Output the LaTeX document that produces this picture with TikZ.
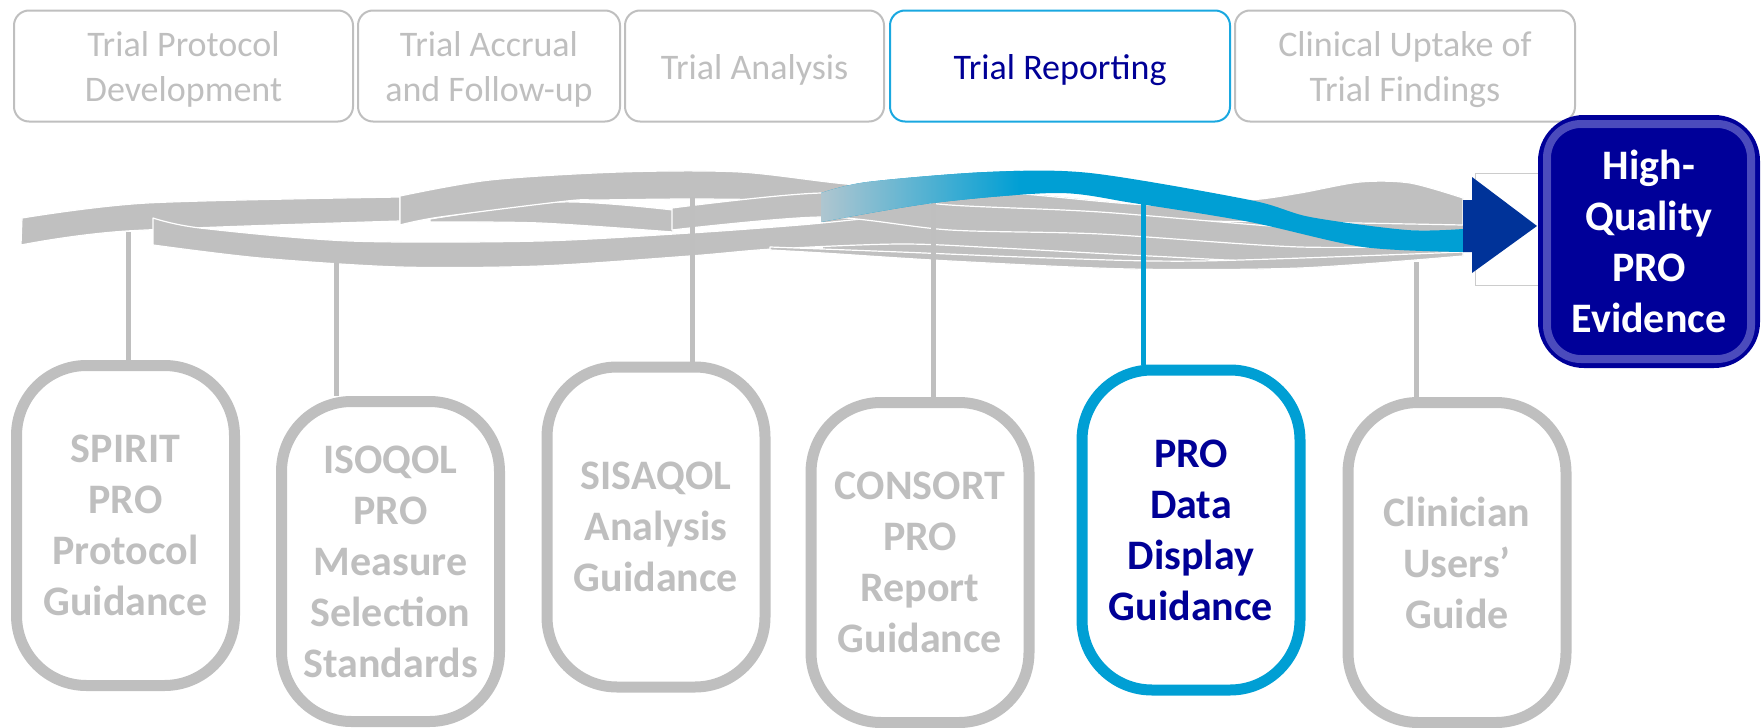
\documentclass[tikz,border=0pt]{standalone}
\usepackage{fontspec}
\setmainfont{Carlito}
\definecolor{lgray}{HTML}{BFBFBF}
\definecolor{rgray}{HTML}{C0C0C0}
\definecolor{navy}{HTML}{000096}
\definecolor{pblue}{HTML}{009FD4}
\definecolor{tblue}{HTML}{1AA8E0}
\definecolor{bluelight}{HTML}{AFC6D0}
\definecolor{arrowblue}{HTML}{003399}
\definecolor{hqnavy}{HTML}{000099}
\definecolor{hqring}{HTML}{6C6CCC}
\definecolor{thinbox}{HTML}{CCCCCC}
\begin{document}
\begin{tikzpicture}[x=0.5pt,y=-0.5pt,
  topbox/.style={draw=lgray, line width=1pt, rounded corners=7.5pt, minimum height=55.5pt,
    inner sep=0pt, align=center, text=lgray, font=\fontsize{18}{22.5}\selectfont,
    execute at begin node={\rule{0pt}{16.5pt}}},
  topboxtwo/.style={topbox, execute at begin node={\rule{0pt}{38.5pt}}},
  guidebox/.style={draw=lgray, line width=5.5pt, rounded corners=35pt, minimum width=109pt,
    minimum height=160pt, inner sep=0pt, align=center, text=lgray,
    font=\fontsize{21}{25.5}\selectfont\bfseries},
  hqbox/.style={fill=hqnavy, draw=hqnavy, line width=2pt, rounded corners=22pt,
    minimum width=109pt, minimum height=124.5pt, inner sep=0pt, align=center, text=white,
    font=\fontsize{21}{25.5}\selectfont\bfseries},
  strand/.style={fill=rgray, draw=white, line width=0.6pt, line join=round},
  link/.style={draw=lgray, line width=2.5pt},
  bluelink/.style={draw=pblue, line width=2.5pt}
]
\useasboundingbox (0,0) rectangle (1762,728);

% top phase boxes
\node[topboxtwo, minimum width=169.5pt] (t1) at (183.5,66) {Trial Protocol\\Development};
\node[topboxtwo, minimum width=131pt] (t2) at (489,66) {Trial Accrual\\and Follow-up};
\node[topbox, minimum width=129.5pt] (t3) at (754.5,66) {Trial Analysis};
\node[topbox, minimum width=170pt, draw=tblue, text=navy] (t4) at (1060,66) {Trial Reporting};
\node[topboxtwo, minimum width=170pt] (t5) at (1405,66) {Clinical Uptake of\\Trial Findings};

% guidance boxes
\node[guidebox] (g1) at (125.5,525.5) {SPIRIT\\PRO\\Protocol\\Guidance};
\node[guidebox] (g2) at (390.5,561.5) {ISOQOL\\PRO\\Measure\\Selection\\Standards};
\node[guidebox] (g3) at (656,527) {SISAQOL\\Analysis\\Guidance};
\node[guidebox] (g4) at (920,562.5) {CONSORT\\PRO\\Report\\Guidance};
\node[guidebox, draw=pblue, text=navy] (g5) at (1191,530) {PRO\\Data\\Display\\Guidance};
\node[guidebox] (g6) at (1457,562.5) {Clinician\\Users’\\Guide};

% ribbon: solid body on the right
\fill[rgray] plot[smooth] coordinates {(823,190) (1000,192) (1150,205) (1250,200) (1300,193) (1360,182) (1410,183) (1463,198)}
  -- plot[smooth] coordinates {(1463,256) (1300,268) (1130,269) (950,261) (823,251)} -- cycle;
% ribbon strands (gray)
\filldraw[strand] plot[smooth] coordinates {(22,218) (147,203) (400,197)}
  -- plot[smooth] coordinates {(400,221) (127,231) (21,245)} -- cycle;
\filldraw[strand] plot[smooth] coordinates {(153,218) (200,228) (350,241) (540,241) (690,233) (800,225) (900,216) (1000,215) (1150,226) (1300,236) (1463,240)}
  -- plot[smooth] coordinates {(1463,253) (1300,262) (1150,256) (1000,248) (900,244) (773,249) (690,256) (540,266) (400,267) (260,258) (153,245)} -- cycle;
\filldraw[strand] plot[smooth] coordinates {(770,247) (900,252) (1050,258) (1200,261) (1463,252)}
  -- plot[smooth] coordinates {(1463,256) (1300,268) (1130,269) (950,261) (823,253) (770,250)} -- cycle;
\filldraw[strand] plot[smooth] coordinates {(430,219) (560,202) (673,210)}
  -- plot[smooth] coordinates {(673,232) (540,223) (430,222)} -- cycle;
\filldraw[strand] plot[smooth] coordinates {(400,196) (490,180) (620,172) (740,172) (857,185) (1000,192) (1150,205) (1250,200) (1300,193) (1360,182) (1410,183) (1463,198)}
  -- plot[smooth] coordinates {(1463,225) (1300,222) (1150,220) (1000,210) (870,203) (780,200) (690,199) (600,200) (567,201) (440,217) (400,225)} -- cycle;
\filldraw[strand] plot[smooth] coordinates {(672,208) (823,193) (950,205) (1100,212) (1300,228) (1463,232)}
  -- plot[smooth] coordinates {(1463,245) (1300,247) (1100,234) (950,230) (823,217) (672,230)} -- cycle;

% connectors from ribbon to guidance boxes
\coordinate (k1) at (128,232);
\coordinate (k2) at (336,263);
\coordinate (k3) at (692,197);
\coordinate (k4) at (933,202);
\coordinate (k5) at (1143,198);
\coordinate (k6) at (1416,262);
\draw[link] (k1) -- (k1 |- g1.north);
\draw[link] (k2) -- (k2 |- g2.north);
\draw[link] (k3) -- (k3 |- g3.north);
\draw[link] (k4) -- (k4 |- g4.north);
\draw[link] (k6) -- (k6 |- g6.north);

% blue strand
\begin{scope}
\clip plot[smooth] coordinates {(821,193) (867,182) (987,172) (1090,173) (1250,200) (1310,217) (1407,230) (1463,229)}
  -- plot[smooth] coordinates {(1463,252) (1363,247) (1250,222) (1133,203) (1057,193) (933,203) (821,222)} -- cycle;
\fill[pblue] (800,150) rectangle (1480,280);
\shade[left color=bluelight, right color=pblue] (821,150) rectangle (1020,280);
\end{scope}
\draw[bluelink] (k5) -- (k5 |- g5.north);

% thin frame behind the arrow head
\draw[thinbox, line width=0.5pt] (1475,173) rectangle (1545,285);
% arrow head
\fill[arrowblue] (1463,200) -- (1472,200) -- (1472,177) -- (1537,226) -- (1472,273) -- (1472,252) -- (1463,252) -- cycle;

% result box
\node[hqbox] (hq) at (1649,241.5) {High-\\Quality\\PRO\\Evidence};
\draw[hqring, line width=4pt, rounded corners=17pt, opacity=0.7]
  ([shift={(9,9)}]hq.north west) rectangle ([shift={(-9,-9)}]hq.south east);
\draw[hqnavy, line width=2.5pt, rounded corners=14pt]
  ([shift={(16,16)}]hq.north west) rectangle ([shift={(-16,-16)}]hq.south east);
\end{tikzpicture}
\end{document}
